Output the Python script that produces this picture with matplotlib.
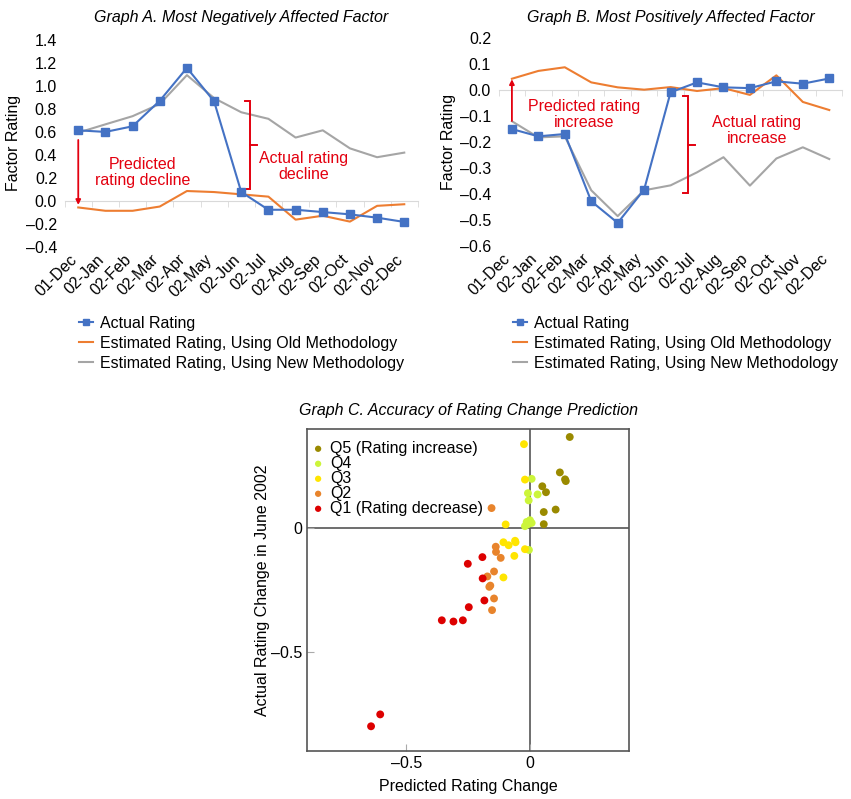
import numpy as np
import matplotlib
matplotlib.use("Agg")
import matplotlib.pyplot as plt
import matplotlib.transforms as mtransforms
from matplotlib.lines import Line2D

plt.rcParams["font.family"] = ["Liberation Sans", "DejaVu Sans"]

# ---- data ----
months = ["01-Dec", "02-Jan", "02-Feb", "02-Mar", "02-Apr", "02-May", "02-Jun",
          "02-Jul", "02-Aug", "02-Sep", "02-Oct", "02-Nov", "02-Dec"]

a_actual = [0.614, 0.60, 0.649, 0.871, 1.157, 0.866, 0.077,
            -0.077, -0.077, -0.097, -0.117, -0.146, -0.183]
a_old = [-0.057, -0.086, -0.086, -0.049, 0.086, 0.077, 0.057,
         0.037, -0.163, -0.129, -0.18, -0.043, -0.029]
a_new = [0.594, 0.666, 0.737, 0.843, 1.094, 0.894, 0.771,
         0.714, 0.551, 0.614, 0.457, 0.38, 0.42]

b_actual = [-0.151, -0.179, -0.170, -0.428, -0.511, -0.383, -0.010,
            0.028, 0.009, 0.006, 0.032, 0.023, 0.043]
b_old = [0.042, 0.072, 0.086, 0.028, 0.009, 0.0, 0.010,
         -0.005, 0.006, -0.020, 0.055, -0.047, -0.078]
b_new = [-0.121, -0.183, -0.179, -0.386, -0.485, -0.386, -0.367,
         -0.317, -0.259, -0.368, -0.264, -0.221, -0.266]

# scatter (predicted change, actual change) per quintile
q5_x = [0.161, 0.121, 0.142, 0.145, 0.05, 0.065, 0.056, 0.104, 0.056]
q5_y = [0.368, 0.225, 0.197, 0.19, 0.169, 0.145, 0.065, 0.075, 0.016]
q4_x = [0.007, -0.008, 0.031, -0.005, 0.0, -0.013, 0.007, -0.02, -0.007, -0.004]
q4_y = [0.199, 0.141, 0.136, 0.112, 0.032, 0.025, 0.021, 0.008, 0.016, -0.088]
q3_x = [-0.024, -0.02, -0.098, -0.107, -0.086, -0.06, -0.058, -0.02, -0.063, -0.107]
q3_y = [0.339, 0.196, 0.015, -0.057, -0.069, -0.051, -0.057, -0.085, -0.112, -0.199]
q2_x = [-0.155, -0.138, -0.137, -0.118, -0.145, -0.172, -0.164, -0.16, -0.145, -0.153]
q2_y = [0.081, -0.075, -0.096, -0.12, -0.175, -0.195, -0.237, -0.232, -0.284, -0.331]
q1_x = [-0.192, -0.251, -0.191, -0.184, -0.247, -0.356, -0.309, -0.271, -0.605, -0.642]
q1_y = [-0.117, -0.144, -0.203, -0.292, -0.319, -0.372, -0.377, -0.372, -0.752, -0.80]

series_labels = ["Actual Rating", "Estimated Rating, Using Old Methodology",
                 "Estimated Rating, Using New Methodology"]
quintile_labels = ["Q5 (Rating increase)", "Q4", "Q3", "Q2", "Q1 (Rating decrease)"]

BLUE = "#4472C4"
ORANGE = "#ED7D31"
GRAY = "#A5A5A5"
RED = "#E3000F"
Q_COLORS = ["#9A8A00", "#CCF53A", "#FFE500", "#E8842C", "#DD0000"]
FS = 11.5

fig = plt.figure(figsize=(8.51, 7.99), dpi=100)


def fmt(v, nd=1):
    v = round(v, nd) + 0.0
    if v == 0:
        v = 0.0
    return f"{v:.{nd}f}".replace("-", "\u2013")


def line_panel(rect, actual, old, new, ylim, yticks, title, title_pad):
    ax = fig.add_axes(rect)
    x = np.arange(len(months))
    ax.plot(x, new, color=GRAY, lw=1.5, label=series_labels[2], zorder=2)
    ax.plot(x, old, color=ORANGE, lw=1.5, label=series_labels[1], zorder=3)
    ax.plot(x, actual, color=BLUE, lw=1.5, marker="s", ms=6,
            label=series_labels[0], zorder=4)
    ax.set_xlim(-0.5, len(months) - 0.5)
    ax.set_ylim(*ylim)
    ax.set_yticks(yticks)
    ax.set_yticklabels([fmt(v) for v in yticks])
    for s in ["top", "right", "left"]:
        ax.spines[s].set_visible(False)
    ax.spines["bottom"].set_position(("data", 0))
    ax.spines["bottom"].set_color("#D9D9D9")
    ax.set_xticks(x)
    ax.set_xticklabels([])
    ax.set_xticks(np.arange(-0.5, len(months), 1), minor=True)
    ax.tick_params(axis="x", which="major", length=0)
    ax.tick_params(axis="x", which="minor", length=4, color="#D9D9D9")
    ax.tick_params(axis="y", length=0, labelsize=FS, pad=5.5)
    # category labels along the bottom edge, rotated like the original
    trans = mtransforms.blended_transform_factory(ax.transData, ax.transAxes)
    for i, m in enumerate(months):
        ax.text(i - 0.15, -0.05, m, rotation=45, ha="right", va="center",
                rotation_mode="anchor", fontsize=FS, transform=trans)
    ax.set_ylabel("Factor Rating", fontsize=FS, labelpad=3)
    ax.set_title(title, fontsize=FS, style="italic", pad=title_pad)
    return ax


def bracket(ax, xb, top, bottom, arm, mid_arm):
    ax.plot([xb - arm, xb, xb, xb - arm], [top, top, bottom, bottom],
            color=RED, lw=1.4, solid_joinstyle="miter")
    mid = (top + bottom) / 2
    ax.plot([xb, xb + mid_arm], [mid, mid], color=RED, lw=1.4)


# ---- Graph A ----
axA = line_panel([0.076, 0.691, 0.415, 0.259], a_actual, a_old, a_new,
                 (-0.4, 1.4), np.arange(-0.4, 1.41, 0.2),
                 "Graph A. Most Negatively Affected Factor", 13)
axA.annotate("", xy=(0, -0.035), xytext=(0, 0.53),
             arrowprops=dict(arrowstyle="-|>", color=RED, lw=1.3,
                             mutation_scale=7, shrinkA=0, shrinkB=0))
axA.text(2.38, 0.25, "Predicted\nrating decline", color=RED, fontsize=11.5,
         ha="center", va="center", linespacing=1.1)
bracket(axA, 6.34, 0.866, 0.106, 0.2, 0.25)
axA.text(8.3, 0.30, "Actual rating\ndecline", color=RED, fontsize=11.5,
         ha="center", va="center", linespacing=1.1)

# ---- Graph B ----
axB = line_panel([0.586, 0.692, 0.404, 0.261], b_actual, b_old, b_new,
                 (-0.6, 0.2), np.arange(-0.6, 0.21, 0.1),
                 "Graph B. Most Positively Affected Factor", 11)
axB.annotate("", xy=(0, 0.04), xytext=(0, -0.12),
             arrowprops=dict(arrowstyle="-|>", color=RED, lw=1.3,
                             mutation_scale=7, shrinkA=0, shrinkB=0))
axB.text(2.73, -0.096, "Predicted rating\nincrease", color=RED, fontsize=11.5,
         ha="center", va="center", linespacing=1.1)
bracket(axB, 6.67, -0.026, -0.398, 0.2, 0.25)
axB.text(9.26, -0.157, "Actual rating\nincrease", color=RED, fontsize=11.5,
         ha="center", va="center", linespacing=1.1)

# legends under A and B
for ax, lx in [(axA, 79 / 851), (axB, 513 / 851)]:
    handles = [Line2D([], [], color=BLUE, lw=1.5, marker="s", ms=5),
               Line2D([], [], color=ORANGE, lw=1.5),
               Line2D([], [], color=GRAY, lw=1.5)]
    ax.legend(handles, series_labels, loc="upper left",
              bbox_to_anchor=(lx, 1 - 316 / 799), bbox_transform=fig.transFigure,
              frameon=False, fontsize=FS, handlelength=0.9, handletextpad=0.4,
              labelspacing=0.3, borderpad=0, borderaxespad=0)

# ---- Graph C ----
axC = fig.add_axes([0.361, 0.060, 0.378, 0.403])
for qx, qy, c, lab in zip([q5_x, q4_x, q3_x, q2_x, q1_x],
                          [q5_y, q4_y, q3_y, q2_y, q1_y],
                          Q_COLORS, quintile_labels):
    axC.scatter(qx, qy, s=32, color=c, edgecolors="none", label=lab, zorder=3)
axC.axhline(0, color="#555555", lw=1.2, zorder=1)
axC.axvline(0, color="#555555", lw=1.2, zorder=1)
axC.set_xlim(-0.9, 0.4)
axC.set_ylim(-0.9, 0.4)
axC.set_xticks([-0.5, 0])
axC.set_xticklabels(["\u20130.5", "0"])
axC.set_yticks([-0.5, 0])
axC.set_yticklabels(["\u20130.5", "0"])
axC.tick_params(direction="in", length=5, color="#AAAAAA", labelsize=FS)
for s in axC.spines.values():
    s.set_color("#555555")
    s.set_linewidth(1.2)
axC.set_xlabel("Predicted Rating Change", fontsize=FS, labelpad=6)
axC.set_ylabel("Actual Rating Change in June 2002", fontsize=FS, labelpad=1)
axC.set_title("Graph C. Accuracy of Rating Change Prediction", fontsize=FS,
              style="italic", pad=10)
axC.legend(loc="upper left", bbox_to_anchor=(0.019, 0.963), frameon=False,
           fontsize=FS, handletextpad=0.45, labelspacing=0.0, borderpad=0,
           borderaxespad=0, handlelength=0.6, markerscale=0.8)

fig.savefig("out.png", dpi=100)
